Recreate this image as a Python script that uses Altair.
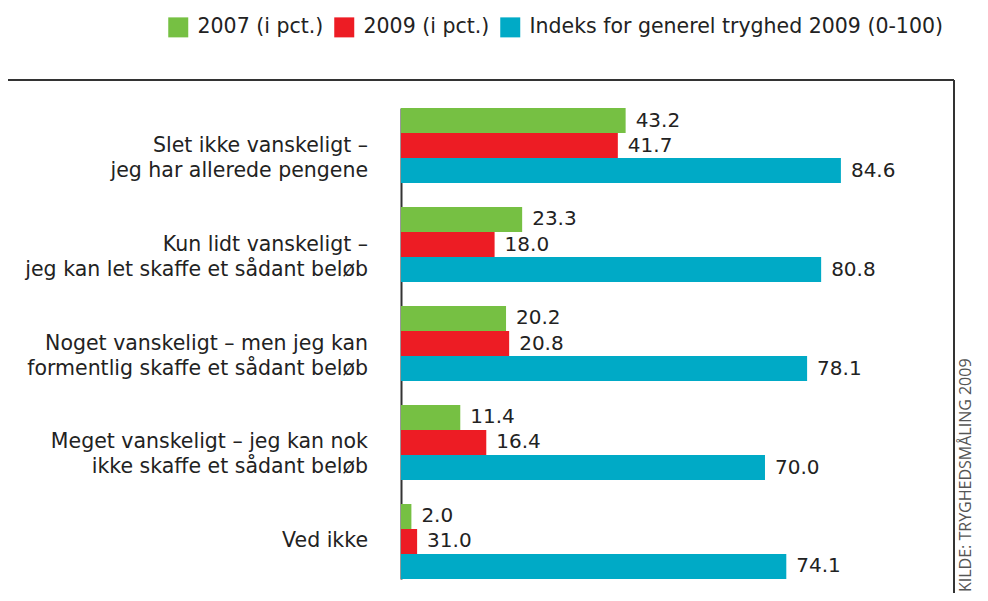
import altair as alt
import pandas as pd

categories = [
    "Slet ikke vanskeligt –\njeg har allerede pengene",
    "Kun lidt vanskeligt –\njeg kan let skaffe et sådant beløb",
    "Noget vanskeligt – men jeg kan\nformentlig skaffe et sådant beløb",
    "Meget vanskeligt – jeg kan nok\nikke skaffe et sådant beløb",
    "Ved ikke",
]
series = ["2007 (i pct.)", "2009 (i pct.)", "Indeks for generel tryghed 2009 (0-100)"]
colors = ["#76c043", "#ed1c24", "#00aac6"]

values_2007 = [43.2, 23.3, 20.2, 11.4, 2.0]
values_2009 = [41.7, 18.0, 20.8, 16.4, 3.1]
values_index = [84.6, 80.8, 78.1, 70.0, 74.1]

labels_2007 = ["43.2", "23.3", "20.2", "11.4", "2.0"]
labels_2009 = ["41.7", "18.0", "20.8", "16.4", "31.0"]
labels_index = ["84.6", "80.8", "78.1", "70.0", "74.1"]

rows = []
for s, vals, labs in zip(series, [values_2007, values_2009, values_index],
                         [labels_2007, labels_2009, labels_index]):
    for c, v, l in zip(categories, vals, labs):
        rows.append({"category": c, "series": s, "value": v, "label": l})
df = pd.DataFrame(rows)
cat_df = pd.DataFrame({"category": categories})

FONT = "DejaVu Sans"
W, H = 553, 471

yscale = alt.Scale(domain=categories, paddingInner=0.2424, paddingOuter=0)
xscale = alt.Scale(domain=[0, 106.35], nice=False, zero=True)

bars = alt.Chart(df).mark_bar(size=25).encode(
    y=alt.Y("category:N", scale=yscale,
            axis=alt.Axis(labels=False, ticks=False, title=None, domainColor="#333",
                          domainWidth=2, grid=False)),
    yOffset=alt.YOffset("series:N", sort=series),
    x=alt.X("value:Q", scale=xscale, axis=None),
    color=alt.Color("series:N", sort=series,
                    scale=alt.Scale(domain=series, range=colors),
                    legend=alt.Legend(orient="none", legendX=-233, legendY=-91,
                                      direction="horizontal", title=None,
                                      symbolType="square", symbolSize=400,
                                      symbolStrokeWidth=0, symbolOpacity=1,
                                      labelFontSize=20.5, labelFont=FONT,
                                      labelColor="#222", labelOffset=9,
                                      columnPadding=10, padding=0,
                                      labelLimit=600)),
)

value_labels = alt.Chart(df).mark_text(
    align="left", baseline="middle", dx=10, fontSize=20, font=FONT, color="#222"
).encode(
    y=alt.Y("category:N", scale=yscale),
    yOffset=alt.YOffset("series:N", sort=series),
    x=alt.X("value:Q", scale=xscale),
    text="label:N",
)

cat_labels = alt.Chart(cat_df).mark_text(
    align="right", baseline="middle", fontSize=20.5, font=FONT, color="#222",
    lineBreak="\n", lineHeight=25
).encode(
    y=alt.Y("category:N", scale=yscale),
    x=alt.value(-33),
    text="category:N",
)

top_line = alt.Chart(cat_df.head(1)).mark_rule(color="#333", strokeWidth=2).encode(
    x=alt.value(-393), x2=alt.value(W), y=alt.value(-28)
)
right_line = alt.Chart(cat_df.head(1)).mark_rule(color="#333", strokeWidth=2).encode(
    x=alt.value(W), y=alt.value(-28), y2=alt.value(H + 14)
)
source = alt.Chart(cat_df.head(1)).mark_text(
    text="KILDE: TRYGHEDSMÅLING 2009", angle=270, align="left", baseline="middle",
    fontSize=16, font="Open Sans", color="#555"
).encode(x=alt.value(565), y=alt.value(484))

chart = alt.layer(top_line, right_line, bars, value_labels, cat_labels, source).properties(
    width=W, height=H,
    autosize=alt.AutoSizeParams(type="none"),
    padding={"left": 393, "top": 100, "right": 26, "bottom": 14},
).configure_view(stroke=None)

chart.save("out.html", embed_options={"renderer": "svg", "actions": False})
